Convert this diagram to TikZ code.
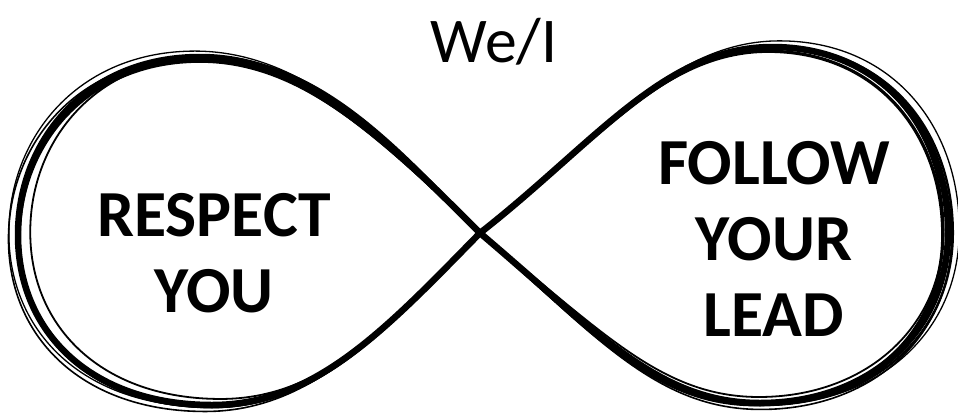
\documentclass[tikz,border=0pt]{standalone}
\usepackage{fontspec}
\setmainfont{Carlito}
\usepackage{tikz}
\usetikzlibrary{positioning,calc}

\begin{document}
\begin{tikzpicture}[
    x=1bp, y=-1bp,
    stroke/.style={
        black,
        line join=round,
        line cap=round
    },
    title/.style={
        font=\fontsize{64}{76}\selectfont,
        inner sep=0pt
    },
    loopText/.style={
        font=\fontsize{66}{76}\selectfont\bfseries,
        align=center,
        inner sep=0pt
    }
]
\useasboundingbox (0,0) rectangle (958,419);

% infinity sign, drawn over a few times by hand
\coordinate (cross) at (480,233);
\foreach \s/\dx/\dy/\w in {1/0/0/6.5, 1.014/-3/4/1.6, 0.982/4/-3/1.8, 1.022/1/-2/1.3, 0.993/-2/3/3.2, 1.006/2/1/2.4}{
    \draw[stroke, line width=\w bp, shift={(\dx,\dy)}]
        (cross) .. controls ($(cross)!\s!(595,143)$) and ($(cross)!\s!(665,47)$) .. ($(cross)!\s!(772,47)$)
        .. controls ($(cross)!\s!(882,47)$) and ($(cross)!\s!(948,130)$) .. ($(cross)!\s!(948,232)$)
        .. controls ($(cross)!\s!(948,333)$) and ($(cross)!\s!(868,403)$) .. ($(cross)!\s!(760,403)$)
        .. controls ($(cross)!\s!(660,403)$) and ($(cross)!\s!(600,335)$) .. (cross)
        .. controls ($(cross)!\s!(385,138)$) and ($(cross)!\s!(305,57)$) .. ($(cross)!\s!(200,57)$)
        .. controls ($(cross)!\s!(87,57)$) and ($(cross)!\s!(18,140)$) .. ($(cross)!\s!(18,235)$)
        .. controls ($(cross)!\s!(18,333)$) and ($(cross)!\s!(92,405)$) .. ($(cross)!\s!(212,405)$)
        .. controls ($(cross)!\s!(315,405)$) and ($(cross)!\s!(385,330)$) .. (cross);
}

% labels
\node[title, anchor=base] (wei) at (494,62) {We/I};
\node[loopText] (respect) at (214,253) {RESPECT\\YOU};
\node[loopText] (follow) at (774,239) {FOLLOW\\YOUR\\LEAD};

\end{tikzpicture}
\end{document}
